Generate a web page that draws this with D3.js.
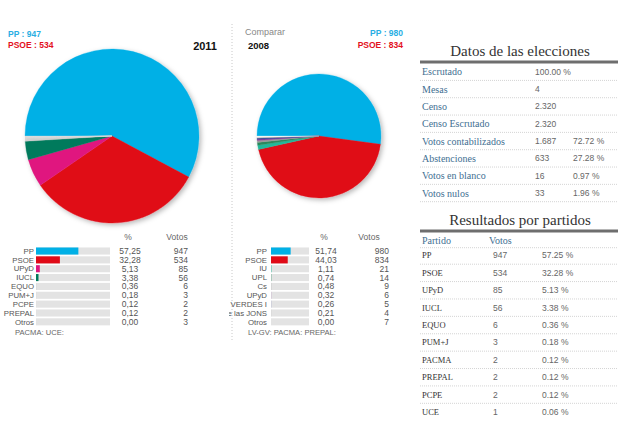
<!DOCTYPE html>
<html><head><meta charset="utf-8">
<script src="https://cdn.jsdelivr.net/npm/d3@7"></script>
<style>
body{margin:0;background:#fff;}
svg{display:block;font-family:"Liberation Sans",Arial,sans-serif;}
</style></head>
<body><svg id="c" width="640" height="421"></svg>
<script>
// ---- data ----
const parties2011 = ["PP","PSOE","UPyD","IUCL","EQUO","PUM+J","PCPE","PREPAL","Otros"];
const pct2011 = [57.25,32.28,5.13,3.38,0.36,0.18,0.12,0.12,0.00];
const votes2011 = [947,534,85,56,6,3,2,2,3];
const colors2011 = ["#00b0e6","#e00a17","#e0177f","#007a5c","#cfcfcf","#d2d2d2","#d5d5d5","#d8d8d8","#dcdcdc"];
const footer2011 = "PACMA:  UCE:";

const parties2008 = ["PP","PSOE","IU","UPL","Cs","UPyD","LOS VERDES I","FE de las JONS","Otros"];
const pct2008 = [51.74,44.03,1.11,0.74,0.48,0.32,0.26,0.21,0.00];
const votes2008 = [980,834,21,14,9,6,5,4,7];
const colors2008 = ["#00b0e6","#e00a17","#22b89a","#2a8a5c","#9a9a9a","#8a3a9a","#2a3a9a","#8a8a8a","#f4f4f4"];
const footer2008 = "LV-GV:  PACMA:  PREPAL:";

const datosLabels = ["Escrutado","Mesas","Censo","Censo Escrutado","Votos contabilizados","Abstenciones","Votos en blanco","Votos nulos"];
const datosVal = ["100.00 %","4","2.320","2.320","1.687","633","16","33"];
const datosPct = ["","","","","72.72 %","27.28 %","0.97 %","1.96 %"];

const resParties = ["PP","PSOE","UPyD","IUCL","EQUO","PUM+J","PACMA","PREPAL","PCPE","UCE"];
const resVotes = [947,534,85,56,6,3,2,2,2,1];
const resPct = ["57.25 %","32.28 %","5.13 %","3.38 %","0.36 %","0.18 %","0.12 %","0.12 %","0.12 %","0.06 %"];

// ---- drawing ----
const svg = d3.select("#c");
const defs = svg.append("defs");
const f = defs.append("filter").attr("id","sh").attr("x","-20%").attr("y","-20%").attr("width","150%").attr("height","150%");
f.append("feDropShadow").attr("dx",2).attr("dy",2).attr("stdDeviation",2.5).attr("flood-color","#000").attr("flood-opacity",0.28);

const fmtComma = v => d3.format(".2f")(v).replace(".", ",");

function drawPie(cx, cy, r, votes, colors){
  const pie = d3.pie().sort(null).startAngle(-Math.PI/2).endAngle(3*Math.PI/2);
  const arc = d3.arc().innerRadius(0).outerRadius(r);
  const g = svg.append("g").attr("transform",`translate(${cx},${cy})`).attr("filter","url(#sh)");
  g.selectAll("path").data(pie(votes)).join("path")
    .attr("d",arc).attr("fill",(d,i)=>colors[i]).attr("stroke",(d,i)=>colors[i]).attr("stroke-width",0.3);
}
drawPie(112,136,87,votes2011,colors2011);
drawPie(319,136,62,votes2008,colors2008);

// separator
svg.append("line").attr("x1",232).attr("x2",232).attr("y1",24).attr("y2",342)
  .attr("stroke","#c8c8c8").attr("stroke-dasharray","1,2");

function txt(x,y,s,opt={}){
  const t = svg.append("text").attr("x",x).attr("y",y).attr("dy","0.35em").text(s)
    .attr("font-size",opt.size||9).attr("fill",opt.fill||"#555")
    .attr("font-weight",opt.weight||"normal").attr("text-anchor",opt.anchor||"start");
  if(opt.family) t.attr("font-family",opt.family);
  return t;
}
txt(8,34,"PP : "+votes2011[0],{fill:"#29aee3",weight:"bold",size:8.5});
txt(8,45,"PSOE : "+votes2011[1],{fill:"#e3101d",weight:"bold",size:8.5});
txt(217,46,"2011",{fill:"#111",weight:"bold",size:11,anchor:"end"});
txt(245,32,"Comparar",{fill:"#888",size:9});
txt(248,46,"2008",{fill:"#111",weight:"bold",size:9.5});
txt(403,33,"PP : "+votes2008[0],{fill:"#29aee3",weight:"bold",size:8.5,anchor:"end"});
txt(403,45,"PSOE : "+votes2008[1],{fill:"#e3101d",weight:"bold",size:8.5,anchor:"end"});

// bar tables
function drawTable(o){
  const y = d3.scaleBand().domain(o.parties).range([246.6, 246.6+8.85*o.parties.length]).paddingInner(0.2).paddingOuter(0.1);
  const x = d3.scaleLinear().domain([0,100]).range([o.barX, o.barX+o.barW]);
  txt(o.pctX,237,"%",{anchor:"middle",fill:"#666",size:8.5});
  txt(o.votX,237,"Votos",{anchor:"middle",fill:"#666",size:8.5});
  const cid = "clip"+o.barX;
  defs.append("clipPath").attr("id",cid).append("rect").attr("x",o.clipX).attr("y",240).attr("width",o.labelX-o.clipX+1.5).attr("height",90);
  const lg = svg.append("g").attr("clip-path",`url(#${cid})`);
  o.parties.forEach((p,i)=>{
    const cy = y(p)+y.bandwidth()/2;
    lg.append("text").attr("x",o.labelX).attr("y",cy).attr("dy","0.35em").attr("text-anchor","end")
      .attr("font-size",7.8).attr("fill","#555").text(p);
    svg.append("rect").attr("x",o.barX).attr("y",y(p)).attr("width",o.barW).attr("height",y.bandwidth()).attr("fill","#e3e3e3");
    svg.append("rect").attr("x",o.barX).attr("y",y(p)).attr("width",x(o.pct[i])-o.barX).attr("height",y.bandwidth()).attr("fill",o.colors[i]);
    txt(o.pctX+2,cy,fmtComma(o.pct[i]),{anchor:"middle",size:8.5});
    txt(o.votR,cy,o.votes[i],{anchor:"end",size:8.5});
  });
  txt(o.footX,332,o.footer,{size:7.6,fill:"#666"});
}
drawTable({parties:parties2011,pct:pct2011,votes:votes2011,colors:colors2011,labelX:34,clipX:0,barX:36,barW:74,pctX:128,votX:177,votR:188,footX:15,footer:footer2011});
drawTable({parties:parties2008,pct:pct2008,votes:votes2008,colors:colors2008,labelX:267,clipX:229,barX:271,barW:38,pctX:324,votX:369,votR:389,footX:248,footer:footer2008});

// right tables
const serif = "'Liberation Serif','DejaVu Serif',Georgia,serif";
function titleBlock(cy,lineY,s){
  txt(520,cy,s,{anchor:"middle",size:15,fill:"#333",family:serif});
  svg.append("line").attr("x1",420).attr("x2",618).attr("y1",lineY).attr("y2",lineY).attr("stroke","#6e6e6e").attr("stroke-width",3);
}
function dotted(y){
  svg.append("line").attr("x1",420).attr("x2",618).attr("y1",y).attr("y2",y).attr("stroke","#d4d4d4").attr("stroke-dasharray","1,1");
}
titleBlock(51,62,"Datos de las elecciones");
const ry = d3.scalePoint().domain(datosLabels).range([71.7,193]);
datosLabels.forEach((l,i)=>{
  const cy = ry(l);
  txt(422,cy,l,{size:10,fill:"#3f6f92",family:serif});
  txt(535,cy,datosVal[i],{size:8.5,fill:"#666"});
  if(datosPct[i]) txt(573,cy,datosPct[i],{size:8.5,fill:"#666"});
  dotted(cy+8.7);
});

titleBlock(220,231,"Resultados por partidos");
txt(422,240,"Partido",{size:10,fill:"#3f6f92",family:serif});
txt(489,240,"Votos",{size:10,fill:"#3f6f92",family:serif});
dotted(247.7);
const ry2 = d3.scalePoint().domain(resParties).range([255.5,412]);
resParties.forEach((p,i)=>{
  const cy = ry2(p);
  txt(422,cy,p,{size:8.5,fill:"#333",family:serif});
  txt(493,cy,resVotes[i],{size:8.5,fill:"#666"});
  txt(542,cy,resPct[i],{size:8.5,fill:"#666"});
  if(i<resParties.length-1) dotted(cy+8.7);
});
</script></body></html>
